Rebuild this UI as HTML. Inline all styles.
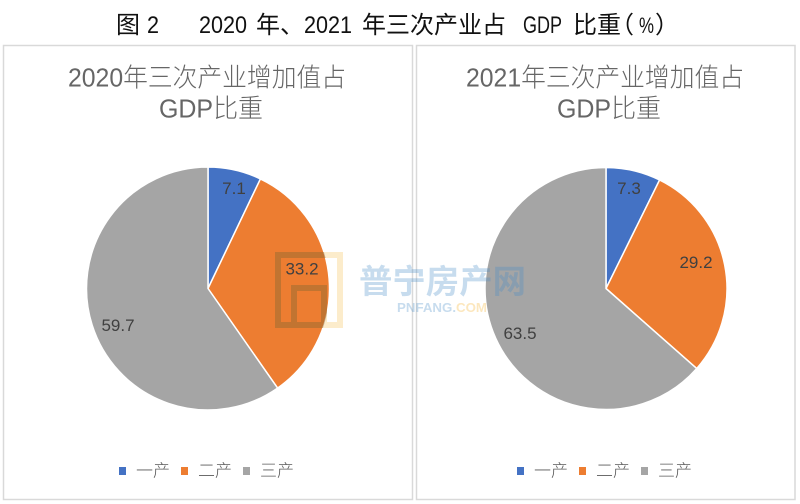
<!DOCTYPE html>
<html>
<head>
<meta charset="utf-8">
<style>
  html,body{margin:0;padding:0;background:#fff;}
  body{width:800px;height:504px;overflow:hidden;}
  svg{display:block;}
  .cjk{font-family:"Liberation Sans","Noto Sans CJK SC","WenQuanYi Zen Hei",sans-serif;}
</style>
</head>
<body>
<svg width="800" height="504" viewBox="0 0 800 504" xmlns="http://www.w3.org/2000/svg">
  <rect x="0" y="0" width="800" height="504" fill="#ffffff"/>

  <!-- Main title -->
  <g class="cjk" fill="#111" font-size="24" font-weight="normal">
    <text x="116" y="33">图</text>
    <text x="147" y="33" font-size="24" textLength="12" lengthAdjust="spacingAndGlyphs">2</text>
    <text x="199" y="33" font-size="24" textLength="48" lengthAdjust="spacingAndGlyphs">2020</text>
    <text x="256" y="33">年、</text>
    <text x="304" y="33" font-size="24" textLength="48" lengthAdjust="spacingAndGlyphs">2021</text>
    <text x="362" y="33">年三次产业占</text>
    <text x="523" y="33" font-size="24" textLength="39" lengthAdjust="spacingAndGlyphs">GDP</text>
    <text x="573" y="33">比重</text>
    <text x="610" y="33">（</text>
    <text x="639" y="33" font-size="22" textLength="15" lengthAdjust="spacingAndGlyphs">%</text>
    <text x="655" y="33">）</text>
  </g>

  <!-- Panel borders -->
  <rect x="3.5" y="45.5" width="409" height="454" fill="none" stroke="#d9d9d9" stroke-width="1.5"/>
  <rect x="416.5" y="45.5" width="378.5" height="454" fill="none" stroke="#d9d9d9" stroke-width="1.5"/>

  <!-- Panel titles -->
  <g class="cjk" fill="#666666" font-size="26" font-weight="300">
    <text x="68" y="86.5" textLength="278" lengthAdjust="spacingAndGlyphs">2020年三次产业增加值占</text>
    <text x="159" y="117.5" textLength="104" lengthAdjust="spacingAndGlyphs">GDP比重</text>
    <text x="466" y="86.5" textLength="278" lengthAdjust="spacingAndGlyphs">2021年三次产业增加值占</text>
    <text x="557" y="117.5" textLength="104" lengthAdjust="spacingAndGlyphs">GDP比重</text>
  </g>

  <!-- Left pie -->
  <g stroke="#ffffff" stroke-width="1.5" stroke-linejoin="round">
    <path d="M208,288.5 L208,167 A121.5,121.5 0 0 1 260.43,178.89 Z" fill="#4472C4"/>
    <path d="M208,288.5 L260.43,178.89 A121.5,121.5 0 0 1 277.60,388.09 Z" fill="#ED7D31"/>
    <path d="M208,288.5 L277.60,388.09 A121.5,121.5 0 1 1 208,167 Z" fill="#A5A5A5"/>
  </g>

  <!-- Right pie -->
  <g stroke="#ffffff" stroke-width="1.5" stroke-linejoin="round">
    <path d="M606,288.5 L606,167.5 A121,121 0 0 1 659.58,180.01 Z" fill="#4472C4"/>
    <path d="M606,288.5 L659.58,180.01 A121,121 0 0 1 696.76,368.52 Z" fill="#ED7D31"/>
    <path d="M606,288.5 L696.76,368.52 A121,121 0 1 1 606,167.5 Z" fill="#A5A5A5"/>
  </g>

  <!-- Watermark -->
  <defs>
    <clipPath id="pieL"><circle cx="208" cy="288.5" r="121.5"/></clipPath>
  </defs>
  <g fill="none" stroke-width="6">
    <g stroke="rgba(245,185,70,0.28)">
      <rect x="278" y="255" width="62" height="70"/>
      <path d="M294,322 V288 H324 V322"/>
    </g>
    <g stroke="rgba(110,70,40,0.35)" clip-path="url(#pieL)">
      <rect x="278" y="255" width="62" height="70"/>
      <path d="M294,322 V288 H324 V322"/>
    </g>
  </g>
  <text x="359" y="293" class="cjk" font-size="33" font-weight="bold" fill="rgba(70,140,200,0.3)" textLength="167" lengthAdjust="spacingAndGlyphs">普宁房产网</text>
  <text x="397" y="312" font-family="Liberation Sans, sans-serif" font-size="13" font-weight="bold" textLength="90" lengthAdjust="spacingAndGlyphs"><tspan fill="rgba(70,140,200,0.3)">PNFANG.</tspan><tspan fill="rgba(245,185,70,0.35)">COM</tspan></text>

  <!-- Data labels -->
  <g font-family="Liberation Sans, sans-serif" font-size="17" fill="#404040" text-anchor="middle">
    <text x="234" y="194">7.1</text>
    <text x="302" y="274.5">33.2</text>
    <text x="118" y="331">59.7</text>
    <text x="629" y="194">7.3</text>
    <text x="696" y="268">29.2</text>
    <text x="520" y="339">63.5</text>
  </g>

  <!-- Legends -->
  <g>
    <rect x="119" y="467" width="7" height="8" fill="#4472C4"/>
    <rect x="181" y="467" width="7" height="8" fill="#ED7D31"/>
    <rect x="243" y="467" width="7" height="8" fill="#A5A5A5"/>
    <rect x="517" y="467" width="7" height="8" fill="#4472C4"/>
    <rect x="579" y="467" width="7" height="8" fill="#ED7D31"/>
    <rect x="641" y="467" width="7" height="8" fill="#A5A5A5"/>
  </g>
  <g class="cjk" font-size="17" fill="#595959" font-weight="300">
    <text x="136" y="476.5">一产</text>
    <text x="198" y="476.5">二产</text>
    <text x="260" y="476.5">三产</text>
    <text x="534" y="476.5">一产</text>
    <text x="596" y="476.5">二产</text>
    <text x="658" y="476.5">三产</text>
  </g>
</svg>
</body>
</html>
